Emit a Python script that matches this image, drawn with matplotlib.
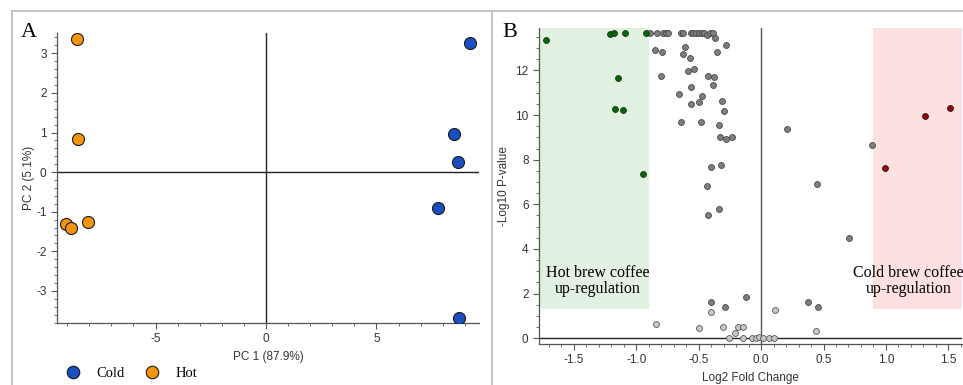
import matplotlib.pyplot as plt
from matplotlib.lines import Line2D
from matplotlib.ticker import MultipleLocator

plt.rcParams['font.family'] = ['Liberation Sans', 'DejaVu Sans']
plt.rcParams['axes.unicode_minus'] = False

# Panel A - PCA scores
cold_pc1 = [9.23, 8.51, 8.67, 7.80, 8.75]
cold_pc2 = [3.27, 0.95, 0.26, -0.90, -3.69]
hot_pc1 = [-8.57, -8.50, -9.07, -8.81, -8.05]
hot_pc2 = [3.37, 0.83, -1.32, -1.41, -1.25]

# Panel B - volcano plot (log2 fold change, -log10 p)
green_x = [-1.72, -1.21, -1.18, -1.09, -0.92, -1.15, -1.17, -1.11, -0.95]
green_y = [13.35, 13.63, 13.68, 13.69, 13.69, 11.66, 10.28, 10.24, 7.34]
red_x = [1.31, 1.51, 0.99]
red_y = [9.94, 10.31, 7.64]
sig_x = [-0.892, -0.838, -0.785, -0.763, -0.745, -0.645, -0.624, -0.565, -0.544,
         -0.522, -0.500, -0.476, -0.455, -0.434, -0.410, -0.388, -0.369,
         -0.851, -0.793, -0.610, -0.624, -0.570, -0.281, -0.356,
         -0.806, -0.584, -0.538, -0.428, -0.375, -0.565, -0.388, -0.661,
         -0.474, -0.560, -0.498, -0.311, -0.297,
         -0.643, -0.482, -0.337, -0.327, -0.284, -0.233, -0.404, -0.319,
         -0.436, -0.337, -0.428,
         0.211, 0.889, 0.450, 0.704, 0.378, 0.458,
         -0.402, -0.287, -0.123]
sig_y = [13.69, 13.69, 13.69, 13.69, 13.69, 13.69, 13.69, 13.69, 13.69,
         13.69, 13.69, 13.69, 13.69, 13.60, 13.69, 13.69, 13.47,
         12.93, 12.84, 13.05, 12.76, 12.54, 13.15, 12.81,
         11.76, 11.97, 12.05, 11.76, 11.73, 11.28, 11.34, 10.94,
         10.87, 10.52, 10.60, 10.63, 10.18,
         9.69, 9.69, 9.57, 9.01, 8.94, 9.01, 7.68, 7.76,
         6.84, 5.77, 5.52,
         9.37, 8.64, 6.92, 4.51, 1.61, 1.42,
         1.61, 1.39, 1.85]
ns_x = [-0.843, -0.498, -0.404, -0.305, -0.255, -0.209, -0.182, -0.147, -0.147,
        -0.075, -0.043, -0.016, 0.014, 0.067, 0.104, 0.110, 0.439]
ns_y = [0.63, 0.45, 1.19, 0.48, 0.03, 0.25, 0.48, 0.48, 0.03,
        0.03, 0.03, 0.07, 0.03, 0.03, 0.03, 1.27, 0.34]

fig = plt.figure(figsize=(9.63, 3.85), dpi=100)

# frame lines around the panels
for xs, ys in [([0.012, 1.0], [0.971, 0.971]),
               ([0.012, 0.012], [0.0, 0.971]),
               ([0.511, 0.511], [0.0, 0.971])]:
    fig.add_artist(Line2D(xs, ys, color='#bbbbbb', lw=1.2))

tick_color = '#333333'


def style_axes(ax):
    ax.spines['top'].set_visible(False)
    ax.spines['right'].set_visible(False)
    for s in ['left', 'bottom']:
        ax.spines[s].set_color('#555555')
        ax.spines[s].set_linewidth(0.9)
    ax.tick_params(which='both', colors='#555555', labelcolor=tick_color, labelsize=8.5)
    ax.tick_params(which='major', length=4)
    ax.tick_params(which='minor', length=2)


# Panel A
axA = fig.add_axes([0.0592, 0.161, 0.4382, 0.753])
axA.axhline(0, color='#222222', lw=1)
axA.axvline(0, color='#222222', lw=1)
axA.scatter(cold_pc1, cold_pc2, s=75, color='#1a4fbf', edgecolor='#1a1a1a', lw=0.8, zorder=3)
axA.scatter(hot_pc1, hot_pc2, s=75, color='#f2950c', edgecolor='#1a1a1a', lw=0.8, zorder=3)
axA.set_xlim(-9.46, 9.64)
axA.set_ylim(-3.81, 3.51)
axA.xaxis.set_major_locator(MultipleLocator(5))
axA.xaxis.set_minor_locator(MultipleLocator(1))
axA.yaxis.set_major_locator(MultipleLocator(1))
axA.yaxis.set_minor_locator(MultipleLocator(0.2))
style_axes(axA)
axA.set_xlabel("PC 1 (87.9%)", fontsize=8.5, color=tick_color)
axA.set_ylabel("PC 2 (5.1%)", fontsize=8.5, color=tick_color, labelpad=1)
fig.text(0.022, 0.915, "A", family='Liberation Serif', fontsize=16, va='center')

handles = [Line2D([], [], marker='o', ls='', ms=9, mfc='#1a4fbf', mec='#1a1a1a', mew=0.8),
           Line2D([], [], marker='o', ls='', ms=9, mfc='#f2950c', mec='#1a1a1a', mew=0.8)]
fig.legend(handles, ['Cold', 'Hot'], loc='center left', bbox_to_anchor=(0.047, 0.03),
           ncol=2, frameon=False, prop={'family': 'Liberation Serif', 'size': 10.5},
           handletextpad=0.6, columnspacing=0.9)

# Panel B
axB = fig.add_axes([0.5597, 0.1065, 0.4393, 0.8205])
axB.axvspan(-1.78, -0.9, ymin=(1.3 + 0.26) / 14.16, ymax=1, color='#e1f0e1', lw=0, zorder=0)
axB.axvspan(0.9, 1.61, ymin=(1.3 + 0.26) / 14.16, ymax=1, color='#fde0e0', lw=0, zorder=0)
axB.axhline(0, color='#222222', lw=1)
axB.axvline(0, color='#555555', lw=1)
axB.scatter(ns_x, ns_y, s=18, color='#c8c8c8', edgecolor='#555555', lw=0.6, zorder=3)
axB.scatter(sig_x, sig_y, s=18, color='#7f7f7f', edgecolor='#444444', lw=0.6, zorder=3)
axB.scatter(green_x, green_y, s=18, color='#0b640b', edgecolor='#0a3a0a', lw=0.6, zorder=3)
axB.scatter(red_x, red_y, s=18, color='#8b0a0a', edgecolor='#3a0a0a', lw=0.6, zorder=3)
axB.set_xlim(-1.78, 1.61)
axB.set_ylim(-0.26, 13.9)
axB.xaxis.set_major_locator(MultipleLocator(0.5))
axB.xaxis.set_minor_locator(MultipleLocator(0.1))
axB.yaxis.set_major_locator(MultipleLocator(2))
axB.yaxis.set_minor_locator(MultipleLocator(0.5))
style_axes(axB)
axB.set_xlabel("Log2 Fold Change", fontsize=8.5, color=tick_color)
axB.set_ylabel("-Log10 P-value", fontsize=8.5, color=tick_color)
axB.text(-1.31, 2.57, "Hot brew coffee\nup-regulation", family='Liberation Serif',
         fontsize=11.5, ha='center', va='center', linespacing=1.05)
axB.text(1.18, 2.57, "Cold brew coffee\nup-regulation", family='Liberation Serif',
         fontsize=11.5, ha='center', va='center', linespacing=1.05, clip_on=False)
fig.text(0.522, 0.915, "B", family='Liberation Serif', fontsize=16, va='center')

fig.savefig('out.png', dpi=100)
